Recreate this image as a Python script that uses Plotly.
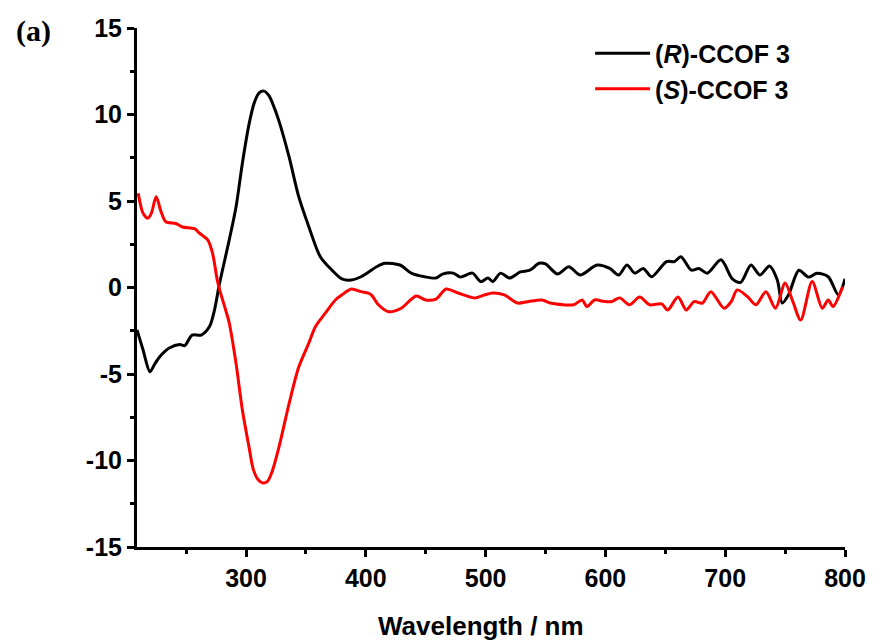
import plotly.graph_objects as go

# (R)-CCOF 3
wl_r = [209, 214, 219.8, 224, 228, 236, 244.7, 248.8, 255, 262.6, 269.5, 273.7, 277.8, 286, 291.7,
        297, 302.7, 307, 311, 315, 319, 323, 327.6, 335.9, 344, 352.5, 362, 371.8, 380, 388, 396, 409,
        416, 428.5, 438, 449, 458.6, 464, 473, 479, 489, 496, 502, 506, 512.5, 520, 529, 537,
        544.6, 550, 560, 569.5, 579, 593, 603.7, 611, 618, 624.5, 631.6, 638.5, 651, 657.6, 663,
        671.7, 678, 685, 696.5, 706, 713, 721.5, 729, 737, 743.5, 747.6, 753, 761.5, 769.5, 776.7,
        786, 794.5, 800]
cd_r = [-2.45, -3.6, -4.87, -4.4, -4.0, -3.5, -3.3, -3.36, -2.75, -2.75, -2.26, -1.3, 0.2, 2.75, 4.67,
        7.2, 9.5, 10.7, 11.25, 11.35, 11.1, 10.5, 9.6, 7.56, 5.25, 3.5, 1.78, 1.0, 0.5, 0.43, 0.62, 1.2,
        1.4, 1.3, 0.83, 0.62, 0.55, 0.77, 0.83, 0.6, 0.83, 0.34, 0.55, 0.34, 0.83, 0.55, 0.9, 1.0,
        1.4, 1.36, 0.78, 1.2, 0.72, 1.3, 1.1, 0.72, 1.3, 0.83, 1.1, 0.62, 1.5, 1.5, 1.78,
        1.0, 1.1, 0.83, 1.6, 0.5, 0.3, 1.3, 0.72, 1.24, 0.43, -0.9, -0.4, 1.0, 0.6, 0.83,
        0.62, -0.43, 0.5]

# (S)-CCOF 3
wl_s = [210, 214, 218, 221, 225, 229, 233, 241.5, 247, 257, 261, 268, 272, 276, 278, 283, 286, 291.7,
        297, 302.7, 306, 310, 314, 318, 322, 327.6, 336, 344, 352.5, 358, 366, 374.6, 380, 388, 396, 402,
        405, 410.5, 419, 429.5, 442, 450, 458.6, 467, 477, 490.7, 499, 506, 515.6, 526.6, 535, 547,
        554, 565, 573.6, 580.5, 584.6, 591, 598.5, 605, 612, 620, 628.6, 637, 647, 652, 660.6,
        667.5, 674, 681, 688, 699, 705, 710, 718.6, 725.6, 734, 742, 750, 756, 763, 772.6, 781,
        786, 790, 798]
cd_s = [5.45, 4.3, 4.0, 4.3, 5.25, 4.4, 3.8, 3.7, 3.5, 3.4, 3.15, 2.75, 2.0, 0.43, -0.14, -1.3, -2.05, -4.4,
        -7.1, -9.3, -10.5, -11.1, -11.3, -11.2, -10.6, -9.2, -6.7, -4.6, -3.2, -2.26, -1.5, -0.72, -0.43, -0.09, -0.24, -0.32,
        -0.45, -1.0, -1.4, -1.2, -0.49, -0.72, -0.67, -0.09, -0.32, -0.6, -0.43, -0.32, -0.43, -0.9, -0.82, -0.72,
        -0.9, -1.0, -1.0, -0.72, -1.1, -0.72, -0.8, -0.82, -0.6, -1.0, -0.55, -1.0, -0.95, -1.3, -0.55,
        -1.3, -0.82, -0.9, -0.24, -1.2, -0.82, -0.14, -0.53, -1.0, -0.24, -1.2, 0.26, -0.72, -1.88, 0.34, -1.2,
        -0.72, -1.1, 0.05]

x_ticks = [300, 400, 500, 600, 700, 800]
x_labels = ["300", "400", "500", "600", "700", "800"]
y_ticks = [-15, -10, -5, 0, 5, 10, 15]
y_labels = ["-15", "-10", "-5", "0", "5", "10", "15"]

fig = go.Figure()
fig.add_trace(go.Scatter(x=wl_r, y=cd_r, mode="lines", name="(<i>R</i>)-CCOF 3",
                         line=dict(color="black", width=3, shape="spline", smoothing=0.8)))
fig.add_trace(go.Scatter(x=wl_s, y=cd_s, mode="lines", name="(<i>S</i>)-CCOF 3",
                         line=dict(color="#ff0000", width=3, shape="spline", smoothing=0.8)))

SANS = "Liberation Sans, Arial"
tickfont = dict(family=SANS, size=25, color="black", weight="bold")

fig.update_layout(
    width=878, height=643,
    margin=dict(l=137, r=29, t=28, b=96),
    paper_bgcolor="white", plot_bgcolor="white",
    showlegend=True,
    legend=dict(x=0.64, y=0.995, xanchor="left", yanchor="top", itemwidth=55,
                font=dict(family=SANS, size=25, color="black", weight="bold"),
                bgcolor="rgba(0,0,0,0)", tracegroupgap=0),
    xaxis=dict(range=[209, 800], tickvals=x_ticks, ticktext=x_labels, ticks="outside", ticklen=7, tickwidth=3,
               tickcolor="black", showline=True, linewidth=3, linecolor="black",
               showgrid=False, zeroline=False, tickfont=tickfont,
               minor=dict(ticks="outside", ticklen=4, tickwidth=3, tickcolor="black", dtick=50, tick0=0)),
    yaxis=dict(range=[-15, 15], tickvals=y_ticks, ticktext=y_labels, ticks="outside", ticklen=7, tickwidth=3,
               tickcolor="black", showline=True, linewidth=3, linecolor="black",
               showgrid=False, zeroline=False, tickfont=tickfont,
               minor=dict(ticks="outside", ticklen=4, tickwidth=3, tickcolor="black", dtick=2.5, tick0=0)),
    annotations=[
        dict(text="Wavelength / nm", xref="paper", yref="paper", x=0.486, y=-0.152,
             xanchor="center", yanchor="middle", showarrow=False,
             font=dict(family=SANS, size=26, color="black", weight="bold")),
        dict(text="(a)", xref="paper", yref="paper", x=-0.146, y=0.994,
             xanchor="center", yanchor="middle", showarrow=False,
             font=dict(family="Liberation Serif, Times New Roman", size=30, color="black", weight="bold")),
    ],
)

fig.write_html(
    "out.html",
    config={"displayModeBar": False},
    post_script="document.body.style.margin='0';document.body.style.overflow='hidden';",
)
